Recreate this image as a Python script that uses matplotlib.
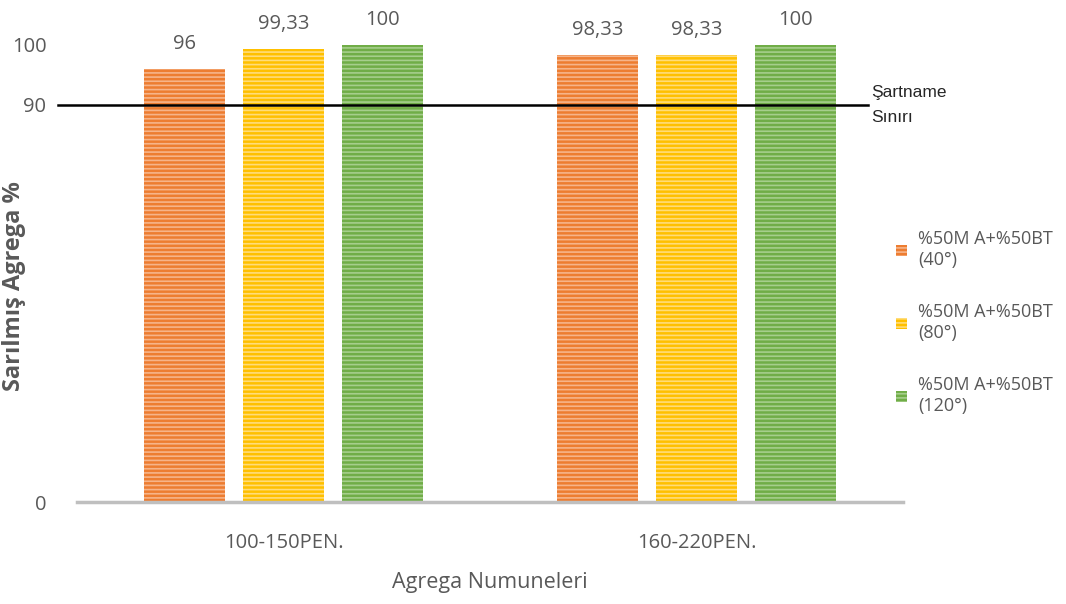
import numpy as np
import matplotlib
matplotlib.use("Agg")
import matplotlib.pyplot as plt

categories = ["100-150PEN.", "160-220PEN."]
series_names = ["%50M A+%50BT\n(40°)", "%50M A+%50BT\n(80°)", "%50M A+%50BT\n(120°)"]
values = [
    [96, 98.33],
    [99.33, 98.33],
    [100, 100],
]
value_labels = [
    ["96", "98,33"],
    ["99,33", "98,33"],
    ["100", "100"],
]
colors = ["#ED7D31", "#FFC000", "#70AD47"]
stripe_colors = ["#F6B48A", "#FFDC7A", "#A6CE8C"]
limit_value = 90
yticks = [0, 90, 100]

plt.rcParams["font.family"] = ["Open Sans", "DejaVu Sans"]
plt.rcParams["hatch.linewidth"] = 1.2
txt = "#595959"


# the original chart stretches the part above 90 - piecewise linear scale
def fwd(y):
    y = np.asarray(y, dtype=float)
    return np.where(y <= 90, y * 397 / 90, 397 + (y - 90) * 6)


def inv(v):
    v = np.asarray(v, dtype=float)
    return np.where(v <= 397, v * 90 / 397, 90 + (v - 397) / 6)


fig = plt.figure(figsize=(10.66, 6.04), dpi=100)
ax = fig.add_axes([77 / 1066, 1 - 502 / 604, 826 / 1066, 457 / 604])
ax.set_yscale("function", functions=(fwd, inv))

x = np.arange(len(categories))
width = 0.196
offsets = [-0.24, 0, 0.24]

for i in range(3):
    bars = ax.bar(x + offsets[i], values[i], width, color=colors[i],
                  edgecolor=stripe_colors[i], linewidth=0, hatch="----",
                  label=series_names[i])
    for b, lab in zip(bars, value_labels[i]):
        ax.annotate(lab, (b.get_x() + b.get_width() / 2, b.get_height()),
                    xytext=(0, 11), textcoords="offset points",
                    ha="center", va="bottom", fontsize=14.5, color=txt)

ax.set_xlim(-0.5, 1.5)
ax.set_ylim(0, 100)
ax.set_yticks(yticks)
ax.set_yticklabels([str(t) for t in yticks])
ax.set_xticks(x)
ax.set_xticklabels(categories)
ax.tick_params(axis="y", length=0, pad=22, labelsize=14.5, labelcolor=txt)
ax.tick_params(axis="x", length=0, pad=22, labelsize=14.5, labelcolor=txt)

for s in ["top", "right", "left"]:
    ax.spines[s].set_visible(False)
ax.spines["bottom"].set_color("#BFBFBF")
ax.spines["bottom"].set_linewidth(2.5)

# specification limit line
trans = ax.get_yaxis_transform()
ax.plot([-0.023, 0.958], [limit_value, limit_value], color="black", lw=1.8,
        transform=trans, clip_on=False, zorder=5)
ax.text(0.962, limit_value, "Şartname\nSınırı", transform=trans,
        ha="left", va="center", fontsize=12.5, color="#262626",
        family=["Liberation Sans", "DejaVu Sans"], linespacing=1.9)

ax.set_xlabel("Agrega Numuneleri", fontsize=15.5, color=txt, labelpad=14)
ax.set_ylabel("Sarılmış Agrega %", fontsize=17, color=txt, fontweight="bold")
ax.yaxis.set_label_coords(-0.062, 0.473)

ax.legend(loc="upper left", bbox_to_anchor=(880 / 1066, 1 - 214 / 604),
          bbox_transform=fig.transFigure, frameon=False, fontsize=13,
          labelcolor=txt, handlelength=0.6, handleheight=0.6,
          handletextpad=0.6, labelspacing=1.9)

fig.savefig("out.png", dpi=100)
